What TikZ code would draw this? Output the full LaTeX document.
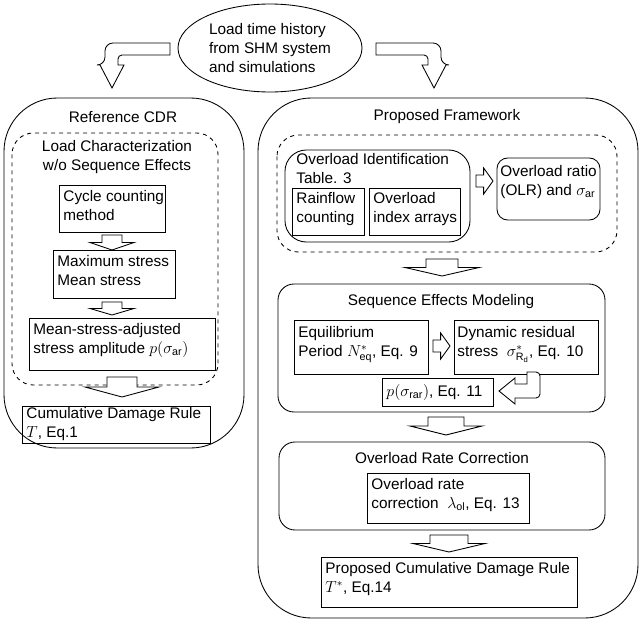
\documentclass[tikz,border=0pt]{standalone}
\usepackage{fontspec}
\setmainfont{Liberation Sans}
\usetikzlibrary{shapes.geometric, positioning}

% hollow block arrow pointing down: centre x, top y, length, half shaft, half head
\newcommand{\dnarrow}[5]{%
  \draw[fill=white] (#1-#4,#2) -- (#1+#4,#2) -- (#1+#4,#2+#3*0.5) -- (#1+#5,#2+#3*0.5)
    -- (#1,#2+#3) -- (#1-#5,#2+#3*0.5) -- (#1-#4,#2+#3*0.5) -- cycle;}
% hollow block arrow pointing right: left x, centre y, length
\newcommand{\rtarrow}[3]{%
  \draw[fill=white] (#1,#2-6) -- (#1+#3*0.45,#2-6) -- (#1+#3*0.45,#2-13) -- (#1+#3,#2)
    -- (#1+#3*0.45,#2+13) -- (#1+#3*0.45,#2+6) -- (#1,#2+6) -- cycle;}

\begin{document}
\begin{tikzpicture}[
    x=0.75pt, y=-0.75pt, line width=0.65pt,
    font=\fontsize{11.5}{14}\selectfont,
    txt/.style={inner sep=0pt, align=left, anchor=north west},
    title/.style={inner sep=0pt, align=center}
]
\useasboundingbox (0,0) rectangle (640,621);

% source
\node[ellipse, draw, minimum width=184*0.75pt, minimum height=88*0.75pt, align=left, inner sep=0pt] (src) at (270,48)
  {Load time history\\from SHM system\\and simulations};

% bent arrows from the source
\draw[fill=white, rounded corners=6pt] (170,43) -- (105,43) -- (105,65) [sharp corners] -- (100,65) -- (112,88) -- (124,65) -- (118,65) [rounded corners=3pt] -- (118,55) [sharp corners] -- (170,55) -- cycle;
\draw[fill=white, rounded corners=6pt] (376,43) -- (441,43) -- (441,65) [sharp corners] -- (446,65) -- (434,88) -- (422,65) -- (428,65) [rounded corners=3pt] -- (428,55) [sharp corners] -- (376,55) -- cycle;

% reference CDR
\draw[rounded corners=40pt] (4,98) rectangle (244,448);
\node[title] (reftitle) at (123,117) {Reference CDR};
\draw[dashed, rounded corners=16pt] (12,133) rectangle (218,385);
\node[title] (loadchar) at (117,157) {Load Characterization\\w/o Sequence Effects};
\draw (59,185) rectangle (165,232);
\node[txt] (cycle) at (63,190) {Cycle counting\\method};
\dnarrow{112}{235}{15}{10}{22}
\draw (53,250) rectangle (175,298);
\node[txt] (maxmean) at (57,255) {Maximum stress\\Mean stress};
\dnarrow{112}{302}{13}{10}{22}
\draw (29,318) rectangle (215,370);
\node[txt] (amp) at (33,323) {Mean-stress-adjusted\\stress amplitude $p(\sigma_{\mathrm{ar}})$};
\dnarrow{122}{377}{20}{15}{37}
\draw (22,406) rectangle (210,443);
\node[txt] (cdr) at (26,407) {Cumulative Damage Rule\\$T$, Eq.1};

% proposed framework
\draw[rounded corners=40pt] (258,98) rectangle (638,618);
\node[title] (proptitle) at (447,117) {Proposed Framework};
\draw[dashed, rounded corners=16pt] (277,135) rectangle (617,252);
\draw[rounded corners=16pt] (285,150) rectangle (470,242);
\node[txt] (olid) at (296,153) {Overload Identification\\Table. 3};
\draw (292,188) rectangle (364,235);
\node[txt] (rain) at (296,192) {Rainflow\\counting};
\draw (369,188) rectangle (460,235);
\node[txt] (olidx) at (373,192) {Overload\\index arrays};
\rtarrow{476}{181}{17}
\draw[rounded corners=8pt] (497,158) rectangle (600,220);
\node[txt] (olr) at (500,165) {Overload ratio\\(OLR) and $\sigma_{\mathrm{ar}}$};
\dnarrow{442}{259}{17}{16}{37}

\draw[rounded corners=12pt] (278,284) rectangle (605,412);
\node[title] (seqtitle) at (441,302) {Sequence Effects Modeling};
\draw (294,320) rectangle (428,374);
\node[txt] (equi) at (298,326) {Equilibrium\\Period $N^{*}_{\mathrm{eq}}$, Eq. 9};
\rtarrow{433}{346}{17}
\draw (454,320) rectangle (598,374);
\node[txt] (dyn) at (457,326) {Dynamic residual\\stress\ \ $\sigma^{*}_{\mathrm{R_d}}$, Eq. 10};
\draw (382,378) rectangle (493,406);
\node[txt] (prar) at (386,384) {$p(\sigma_{\mathrm{rar}})$, Eq. 11};
\draw[fill=white, rounded corners=3pt] (527,372) -- (540,372) -- (540,398) [sharp corners] -- (515,398) -- (515,404) -- (499,391) -- (515,378) -- (515,384) -- (527,384) -- cycle;
\dnarrow{446}{417}{18}{18}{36}

\draw[rounded corners=12pt] (279,442) rectangle (605,530);
\node[title] (ratetitle) at (442,458) {Overload Rate Correction};
\draw (367,473) rectangle (529,523);
\node[txt] (rate) at (371,478) {Overload rate\\correction\ \ $\lambda_{\mathrm{ol}}$, Eq. 13};
\dnarrow{449}{535}{17}{19}{36}
\draw (321,557) rectangle (577,607);
\node[txt] (pcdr) at (325,562) {Proposed Cumulative Damage Rule\\$T^{*}$, Eq.14};
\end{tikzpicture}
\end{document}
